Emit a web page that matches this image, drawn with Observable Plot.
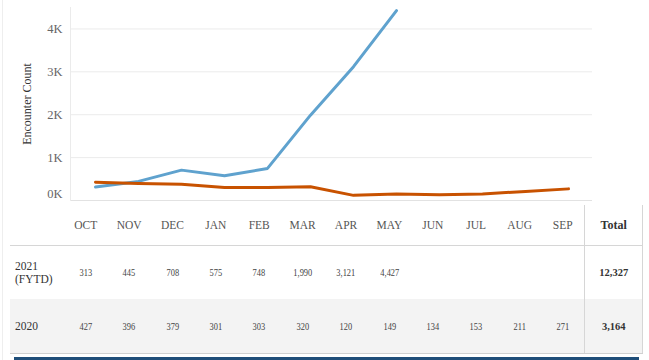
<!DOCTYPE html>
<html>
<head>
<meta charset="utf-8">
<script src="https://cdn.jsdelivr.net/npm/d3@7"></script>
<script src="https://cdn.jsdelivr.net/npm/@observablehq/plot@0.6"></script>
<style>
  html, body { margin: 0; padding: 0; background: #fff; }
  body { width: 649px; height: 360px; position: relative; overflow: hidden; font-family: "Liberation Serif", "Times New Roman", serif; }
  #edge { position: absolute; left: 2px; top: 0; width: 1px; height: 360px; background: #eeeeee; }
  #chart { position: absolute; left: 0; top: 0; }
  table { position: absolute; left: 10px; top: 205px; border-collapse: collapse; table-layout: fixed; width: 632.8px; }
  td, th { padding: 0; text-align: center; vertical-align: middle; color: #444; white-space: nowrap; }
  thead th { height: 40px; font-weight: normal; font-size: 11.5px; color: #555; border-bottom: 1px solid #d6d6d6; }
  tbody td { height: 53px; font-size: 10.5px; }
  tbody tr.alt td { background: #f3f3f3; height: 54px; border-bottom: 1px solid #d0d0d0; }
  td.lab { text-align: left; padding-left: 5px; font-size: 11.5px; line-height: 13px; white-space: normal; color: #333; }
  .tot { border-left: 1px solid #d6d6d6; border-right: 1px solid #d6d6d6; font-weight: bold; }
  tbody td.tot { font-size: 10.5px; color: #333; }
  thead th.tot { font-size: 12px; font-weight: bold; color: #333; }
  span.n { display: inline-block; transform: scaleX(0.8); }
  #bar { position: absolute; left: 14px; top: 357px; width: 625px; height: 3px; background: #1f4e79; }
</style>
</head>
<body>
<div id="edge"></div>
<div id="chart"></div>
<table id="tbl"></table>
<div id="bar"></div>
<script>
const months = ["OCT","NOV","DEC","JAN","FEB","MAR","APR","MAY","JUN","JUL","AUG","SEP"];
const values2021 = [313, 445, 708, 575, 748, 1990, 3121, 4427];
const values2020 = [427, 396, 379, 301, 303, 320, 120, 149, 134, 153, 211, 271];
const seriesNames = ["2021\n(FYTD)", "2020"];
const yTicks = [0, 1000, 2000, 3000, 4000];

const data2021 = values2021.map((v, i) => ({month: months[i], value: v}));
const data2020 = values2020.map((v, i) => ({month: months[i], value: v}));
const fmt = d3.format(",");

const chart = Plot.plot({
  width: 649,
  height: 205,
  marginLeft: 70,
  marginRight: 57,
  marginTop: 7,
  marginBottom: 5,
  style: {fontFamily: "'Liberation Serif', serif", fontSize: "12px", color: "#555", background: "transparent"},
  x: {type: "point", domain: months, axis: null},
  y: {domain: [0, 4500], axis: null},
  marks: [
    Plot.gridY(yTicks.slice(1), {stroke: "#ebebeb", strokeOpacity: 1}),
    Plot.ruleY([0], {stroke: "#e2e2e2"}),
    Plot.frame({anchor: "left", stroke: "#ebebeb"}),
    Plot.axisY(yTicks.slice(1), {tickSize: 0, tickPadding: 8, tickFormat: d => `${d / 1000}K`, fill: "#666", fontSize: 12.5,
      label: "Encounter Count", labelAnchor: "center", labelOffset: 48, labelArrow: "none"}),
    Plot.axisY([0], {tickSize: 0, tickPadding: 8, tickFormat: d => `${d / 1000}K`, fill: "#666", fontSize: 12.5, dy: -7, label: null}),
    Plot.line(data2021, {x: "month", y: "value", stroke: "#5fa2ce", strokeWidth: 3, strokeLinejoin: "round", strokeLinecap: "round"}),
    Plot.line(data2020, {x: "month", y: "value", stroke: "#c85200", strokeWidth: 3, strokeLinejoin: "round", strokeLinecap: "round"})
  ]
});
chart.querySelectorAll("g[aria-label='y-axis label'] text, g[aria-label='y-axis label']").forEach(el => { el.setAttribute("font-size", 12); el.setAttribute("fill", "#333"); });
document.getElementById("chart").appendChild(chart);

// table
const tbl = document.getElementById("tbl");
let html = "<colgroup><col style='width:54px'>" + months.map(() => "<col style='width:43.4px'>").join("") + "<col style='width:58px'></colgroup>";
html += "<thead><tr><th></th>" + months.map(m => `<th>${m}</th>`).join("") + "<th class='tot'>Total</th></tr></thead><tbody>";
const rows = [values2021, values2020];
rows.forEach((vals, r) => {
  const total = d3.sum(vals);
  html += `<tr class='${r === 1 ? "alt" : ""}'><td class='lab'>${seriesNames[r].replace("\n", "<br>")}</td>` +
    months.map((m, i) => `<td>${vals[i] != null ? `<span class='n'>${fmt(vals[i])}</span>` : ""}</td>`).join("") +
    `<td class='tot'>${fmt(total)}</td></tr>`;
});
html += "</tbody>";
tbl.innerHTML = html;
</script>
</body>
</html>
